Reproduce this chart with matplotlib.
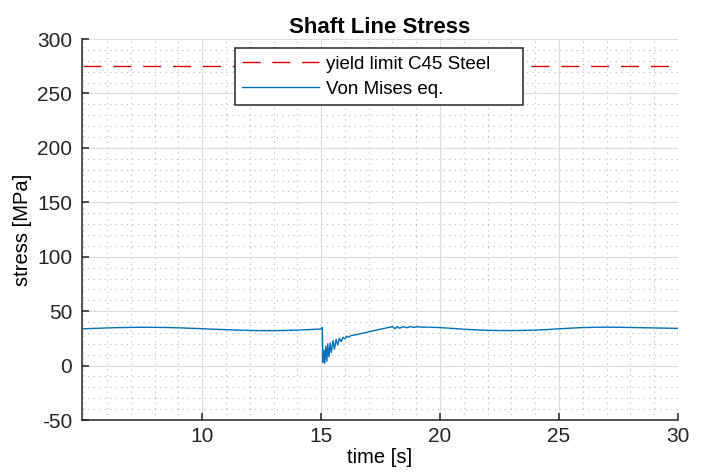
import matplotlib.pyplot as plt
from matplotlib.ticker import MultipleLocator

plt.rcParams['font.family'] = ['Liberation Sans', 'DejaVu Sans']
plt.rcParams['axes.unicode_minus'] = False

# Von Mises equivalent stress along the shaft line [MPa] vs time [s]
t = [5.0, 5.5, 6.0, 6.5, 7.0, 7.5, 8.0, 8.5, 9.0, 9.5, 10.0, 10.5, 11.0,
     11.5, 12.0, 12.5, 13.0, 13.5, 14.0, 14.5, 15.0, 15.05,
     15.08, 15.12, 15.15, 15.2, 15.24, 15.28, 15.33, 15.38, 15.43, 15.5,
     15.56, 15.63, 15.7, 15.77, 15.84, 15.92, 16.0, 16.08, 16.16, 16.25,
     16.5, 17.0, 17.5, 17.9, 18.0, 18.1, 18.2, 18.3, 18.45, 18.6, 18.75,
     18.9, 19.05, 19.2, 19.5, 20.0, 20.5, 21.0, 21.5, 22.0, 22.5, 23.0,
     23.5, 24.0, 24.5, 25.0, 25.5, 26.0, 26.5, 27.0, 27.5, 28.0, 28.5,
     29.0, 29.5, 30.0]
von_mises = [33.8, 34.2, 34.6, 34.9, 35.1, 35.2, 35.1, 35.0, 34.7, 34.3,
             33.9, 33.4, 33.0, 32.6, 32.3, 32.1, 32.1, 32.3, 32.6, 33.1,
             33.6, 35.0,
             3.0, 14.0, 2.0, 18.0, 4.0, 20.0, 8.0, 21.0, 12.0, 23.0,
             15.0, 24.0, 19.0, 25.0, 22.0, 26.0, 24.5, 27.0, 26.0, 27.5,
             28.5, 31.0, 33.5, 35.3, 35.8, 33.8, 35.8, 34.3, 35.8, 34.8, 35.8,
             35.1, 35.7, 35.3, 35.3, 34.9, 34.2, 33.4, 32.8, 32.4, 32.2, 32.2,
             32.3, 32.6, 33.1, 33.8, 34.4, 34.9, 35.2, 35.3, 35.2, 35.0, 34.8,
             34.6, 34.4, 34.2]
t_limit = [5.0, 30.0]
yield_c45 = [275.0, 275.0]

fig = plt.figure(figsize=(7.02, 4.73), dpi=100)
ax = fig.add_axes([0.1168, 0.112, 0.849, 0.8055])

ax.plot(t_limit, yield_c45, color='#e00000', lw=1.0, dashes=(13, 8.5),
        label='yield limit C45 Steel')
ax.plot(t, von_mises, color='#0072BD', lw=1.0, label='Von Mises eq.')

ax.set_xlim(4.95, 30)
ax.set_ylim(-50, 300)
ax.xaxis.set_major_locator(MultipleLocator(5))
ax.xaxis.set_minor_locator(MultipleLocator(1))
ax.yaxis.set_major_locator(MultipleLocator(50))
ax.yaxis.set_minor_locator(MultipleLocator(10))
ax.set_xticks([10, 15, 20, 25, 30])

ax.grid(True, which='major', color='#dcdcdc', lw=0.8)
ax.grid(True, which='minor', color='#b8b8b8', lw=0.8, linestyle=(0, (1, 4)))
ax.set_axisbelow(True)

for side in ['top', 'right']:
    ax.spines[side].set_visible(False)
for side in ['left', 'bottom']:
    ax.spines[side].set_color('#262626')
    ax.spines[side].set_linewidth(1.1)
ax.tick_params(which='major', direction='in', length=5, width=1.1,
               colors='#262626', labelsize=15, labelcolor='#262626')
ax.tick_params(axis='y', which='major', pad=7)
ax.tick_params(axis='x', which='major', pad=5)
ax.tick_params(which='minor', length=0)

ax.set_title('Shaft Line Stress', fontsize=16, fontweight='bold', pad=4)
ax.set_xlabel('time [s]', fontsize=14.5)
ax.xaxis.set_label_coords(0.5, -0.073)
ax.set_ylabel('stress [MPa]', fontsize=14.5, labelpad=4)

leg = ax.legend(loc='upper left', bbox_to_anchor=(0.2567, 0.976, 0.4832, 0.0),
                mode='expand', fontsize=13.5,
                frameon=True, fancybox=False, framealpha=1, edgecolor='#262626',
                handlelength=4.1, borderpad=0.4, labelspacing=0.41,
                handletextpad=0.37, borderaxespad=0)
leg.get_frame().set_linewidth(1.1)

fig.savefig('out.png', dpi=100)
